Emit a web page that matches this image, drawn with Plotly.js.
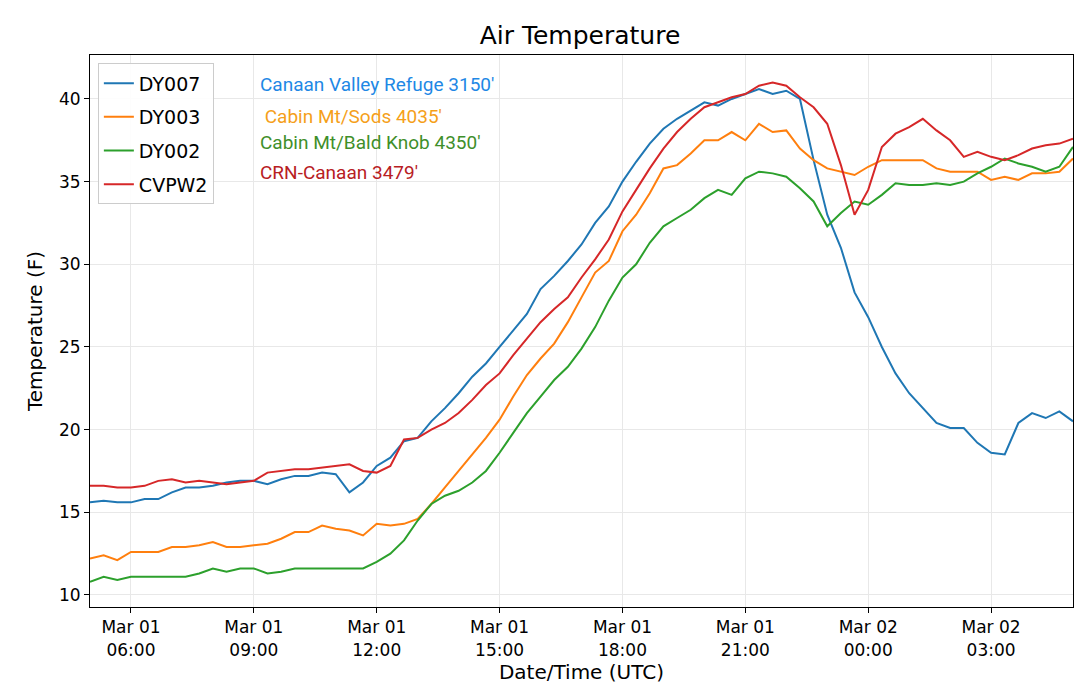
<!DOCTYPE html>
<html>
<head>
<meta charset="utf-8">
<script src="https://cdn.plot.ly/plotly-3.0.1.min.js"></script>
<style>body{margin:0;background:#fff}#chart{width:1080px;height:698px}</style>
</head>
<body>
<div id="chart"></div>
<script>
// observation times: every 20 min, Mar 01 05:00 -> Mar 02 05:00 (UTC)
const startTime = Date.UTC(2019, 2, 1, 5, 0);
const stepMin = 20;

const dy007 = [15.6,15.7,15.6,15.6,15.8,15.8,16.2,16.5,16.5,16.6,16.8,16.9,16.9,16.7,17.0,17.2,17.2,17.4,17.3,16.2,16.8,17.8,18.3,19.3,
  19.5,20.5,21.3,22.2,23.2,24.0,25.0,26.0,27.0,28.5,29.3,30.2,31.2,32.5,33.5,35.0,36.2,37.3,38.2,38.8,39.3,39.8,39.6,40.0,
  40.3,40.6,40.3,40.5,40.0,36.3,33.0,31.0,28.3,26.8,25.0,23.4,22.2,21.3,20.4,20.1,20.1,19.2,18.6,18.5,20.4,21.0,20.7,21.1,20.5];
const dy003 = [12.2,12.4,12.1,12.6,12.6,12.6,12.9,12.9,13.0,13.2,12.9,12.9,13.0,13.1,13.4,13.8,13.8,14.2,14.0,13.9,13.6,14.3,14.2,14.3,
  14.6,15.5,16.5,17.5,18.5,19.5,20.6,22.0,23.3,24.3,25.2,26.5,28.0,29.5,30.2,32.0,33.0,34.3,35.8,36.0,36.7,37.5,37.5,38.0,
  37.5,38.5,38.0,38.1,37.0,36.3,35.8,35.6,35.4,35.9,36.3,36.3,36.3,36.3,35.8,35.6,35.6,35.6,35.1,35.3,35.1,35.5,35.5,35.6,36.4];
const dy002 = [10.8,11.1,10.9,11.1,11.1,11.1,11.1,11.1,11.3,11.6,11.4,11.6,11.6,11.3,11.4,11.6,11.6,11.6,11.6,11.6,11.6,12.0,12.5,13.3,
  14.5,15.5,16.0,16.3,16.8,17.5,18.6,19.8,21.0,22.0,23.0,23.8,24.9,26.2,27.8,29.2,30.0,31.3,32.3,32.8,33.3,34.0,34.5,34.2,
  35.2,35.6,35.5,35.3,34.6,33.8,32.3,33.1,33.8,33.6,34.2,34.9,34.8,34.8,34.9,34.8,35.0,35.5,35.9,36.4,36.1,35.9,35.6,35.9,37.1];
const cvpw2 = [16.6,16.6,16.5,16.5,16.6,16.9,17.0,16.8,16.9,16.8,16.7,16.8,16.9,17.4,17.5,17.6,17.6,17.7,17.8,17.9,17.5,17.4,17.8,19.4,
  19.5,20.0,20.4,21.0,21.8,22.7,23.4,24.5,25.5,26.5,27.3,28.0,29.2,30.3,31.5,33.2,34.5,35.8,37.0,38.0,38.8,39.5,39.8,40.1,
  40.3,40.8,41.0,40.8,40.1,39.5,38.5,36.0,33.0,34.5,37.1,37.9,38.3,38.8,38.1,37.5,36.5,36.8,36.5,36.3,36.6,37.0,37.2,37.3,37.6];

const seriesNames = ['DY007', 'DY003', 'DY002', 'CVPW2'];
const stationLabels = ["Canaan Valley Refuge 3150'", " Cabin Mt/Sods 4035'", "Cabin Mt/Bald Knob 4350'", "CRN-Canaan 3479'"];
const labelY = [0.947, 0.889, 0.842, 0.788];
const tickHours = ['06:00', '09:00', '12:00', '15:00', '18:00', '21:00', '00:00', '03:00'];
const tickDays = ['Mar 01', 'Mar 01', 'Mar 01', 'Mar 01', 'Mar 01', 'Mar 01', 'Mar 02', 'Mar 02'];
const tickTimes = ['2019-03-01 06:00', '2019-03-01 09:00', '2019-03-01 12:00', '2019-03-01 15:00',
  '2019-03-01 18:00', '2019-03-01 21:00', '2019-03-02 00:00', '2019-03-02 03:00'];

const lineColors = ['#1f77b4', '#ff7f0e', '#2ca02c', '#d62728'];
const labelColors = ['#1e88e5', '#f59f1a', '#3f8f2a', '#b8201f'];

function iso(ms) {
    return new Date(ms).toISOString().slice(0, 16).replace('T', ' ');
}
const times = dy007.map(function (_, i) { return iso(startTime + i * stepMin * 60000); });

const traces = [dy007, dy003, dy002, cvpw2].map(function (vals, i) {
    return {
        x: times, y: vals, type: 'scatter', mode: 'lines', name: seriesNames[i],
        legendgroup: 'g' + i,
        line: { color: lineColors[i], width: 2 }
    };
});

const annotations = stationLabels.map(function (t, i) {
    return {
        xref: 'paper', yref: 'paper', x: 0.171, y: labelY[i], xanchor: 'left', yanchor: 'middle',
        text: t, showarrow: false, font: { family: 'Roboto, sans-serif', size: 19, color: labelColors[i] }
    };
});

const axisFont = { family: 'DejaVu Sans, sans-serif', size: 17, color: '#000' };

Plotly.newPlot('chart', traces, {
    width: 1080, height: 698,
    margin: { l: 90, r: 7, t: 55, b: 91 },
    paper_bgcolor: '#fff', plot_bgcolor: '#fff',
    title: { text: 'Air Temperature', x: 0.537, y: 0.962, font: { family: 'DejaVu Sans, sans-serif', size: 25, color: '#000' } },
    font: axisFont,
    showlegend: true,
    legend: {
        x: 0.008, y: 0.985, xanchor: 'left', yanchor: 'top', traceorder: 'grouped', tracegroupgap: 6,
        bgcolor: 'rgba(255,255,255,0.9)', bordercolor: '#cccccc', borderwidth: 1,
        font: { family: 'DejaVu Sans, sans-serif', size: 19, color: '#000' }
    },
    xaxis: {
        type: 'date', range: ['2019-03-01 05:00', '2019-03-02 05:00'],
        tickvals: tickTimes, ticktext: tickDays.map(function (d, i) { return d + '<br>' + tickHours[i]; }),
        tickfont: axisFont, ticks: 'outside', ticklen: 5, tickcolor: '#000',
        showgrid: true, gridcolor: '#e8e8e8', showline: true, linecolor: '#000', mirror: true, zeroline: false,
        title: { text: 'Date/Time (UTC)', font: { family: 'DejaVu Sans, sans-serif', size: 20, color: '#000' }, standoff: 6 }
    },
    yaxis: {
        range: [9.27, 42.66], tickvals: [10, 15, 20, 25, 30, 35, 40],
        tickfont: axisFont, ticks: 'outside', ticklen: 5, tickcolor: '#000',
        showgrid: true, gridcolor: '#e8e8e8', showline: true, linecolor: '#000', mirror: true, zeroline: false,
        title: { text: 'Temperature (F)', font: { family: 'DejaVu Sans, sans-serif', size: 20, color: '#000' }, standoff: 10 }
    },
    annotations: annotations
}, { displayModeBar: false });
</script>
</body>
</html>
